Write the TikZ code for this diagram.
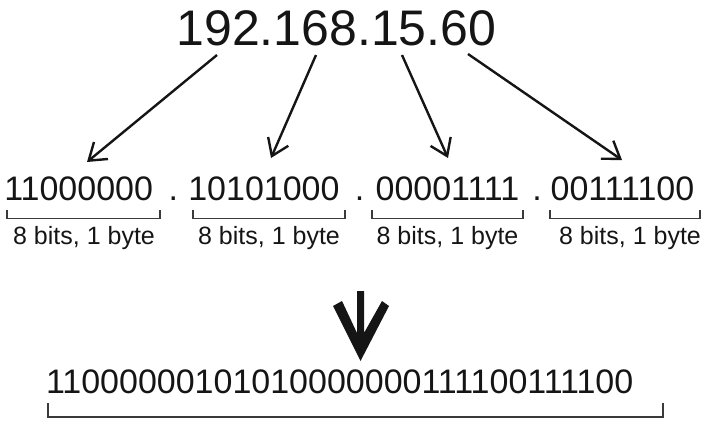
\documentclass[tikz,border=0pt]{standalone}
\usepackage{fontspec}
\setmainfont{Liberation Sans}
\usetikzlibrary{arrows.meta}
\definecolor{ink}{HTML}{151515}
\definecolor{brk}{HTML}{3A3A3A}
\begin{document}
\begin{tikzpicture}[x=1pt,y=-1pt,
  txt/.style={inner sep=0pt,outer sep=0pt,anchor=base west,text=ink},
  big/.style={txt,font=\fontsize{50}{60}\selectfont},
  bits/.style={txt,font=\fontsize{34}{40}\selectfont},
  lbl/.style={inner sep=0pt,outer sep=0pt,anchor=base,text=ink,font=\fontsize{25}{30}\selectfont},
  thinarr/.style={draw=ink,line width=2.4pt,-{Straight Barb[length=16pt,width=22pt,line width=2.4pt]}},
  brace/.style={draw=brk,line width=1.6pt}]
\useasboundingbox (0,0) rectangle (701,424);
% title
\node[big] (ip) at (176.5,45) {192.168.15.60};
% bytes
\node[bits] (b1) at (4.3,200) {11000000};
\node[bits] (d1) at (168.5,200) {.};
\node[bits] (b2) at (188.3,200) {10101000};
\node[bits] (d2) at (354.8,200) {.};
\node[bits] (b3) at (375.6,200) {00001111};
\node[bits] (d3) at (532.3,200) {.};
\node[bits] (b4) at (550.6,200) {00111100};
% labels
\node[lbl] (l1) at (84,244) {8 bits, 1 byte};
\node[lbl] (l2) at (269,244) {8 bits, 1 byte};
\node[lbl] (l3) at (447.5,244) {8 bits, 1 byte};
\node[lbl] (l4) at (630,244) {8 bits, 1 byte};
% brackets
\draw[brace] (7,210) |- (160,218.5) -- (160,210);
\draw[brace] (193,210) |- (345,218.5) -- (345,210);
\draw[brace] (372,210) |- (523,218.5) -- (523,210);
\draw[brace] (550,210) |- (700,218.5) -- (700,210);
% thin arrows
\coordinate (s1) at (217,55);  \coordinate (e1) at (87,162);
\coordinate (s2) at (316,55);  \coordinate (e2) at (271,158);
\coordinate (s3) at (402,55);  \coordinate (e3) at (448,158);
\coordinate (s4) at (468,54);  \coordinate (e4) at (622,160);
\draw[thinarr] (s1) -- (e1);
\draw[thinarr] (s2) -- (e2);
\draw[thinarr] (s3) -- (e3);
\draw[thinarr] (s4) -- (e4);
% big arrow
\coordinate (bt) at (360.5,361);
\fill[ink] (333,306) -- (bt) -- (389,306) -- (382,301) -- (364,333)
  -- (364,291) -- (357,291) -- (357,333) -- (342,301) -- cycle;
% long string
\node[bits] (all) at (46,393) {11000000101010000000111100111100};
\draw[brace,line width=2pt] (48,403) |- (663,417) -- (663,403);
\end{tikzpicture}
\end{document}
